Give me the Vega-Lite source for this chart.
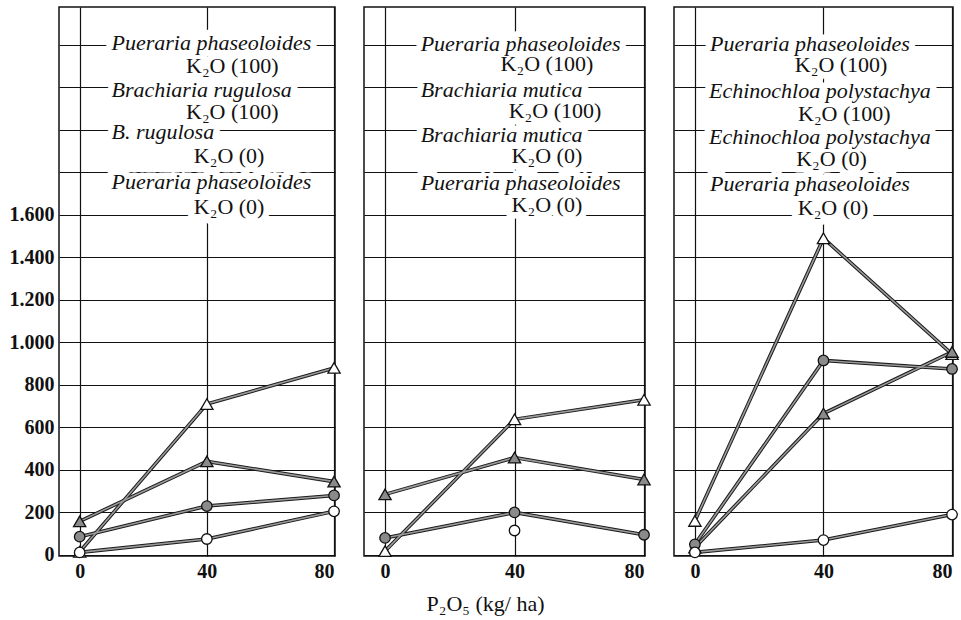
{
  "$schema": "https://vega.github.io/schema/vega-lite/v6.json",
  "padding": {"left": 8, "top": 6, "right": 2, "bottom": 2},
  "background": "white",
  "spacing": 19,
  "datasets": {
    "series": [
      {"panel": 1, "species": "Pueraria phaseoloides", "crop": "legume", "k2o": "100", "p2o5": 0, "dm": 15},
      {"panel": 1, "species": "Pueraria phaseoloides", "crop": "legume", "k2o": "100", "p2o5": 40, "dm": 710},
      {"panel": 1, "species": "Pueraria phaseoloides", "crop": "legume", "k2o": "100", "p2o5": 80, "dm": 880},
      {"panel": 1, "species": "Brachiaria rugulosa", "crop": "grass", "k2o": "100", "p2o5": 0, "dm": 158},
      {"panel": 1, "species": "Brachiaria rugulosa", "crop": "grass", "k2o": "100", "p2o5": 40, "dm": 440},
      {"panel": 1, "species": "Brachiaria rugulosa", "crop": "grass", "k2o": "100", "p2o5": 80, "dm": 345},
      {"panel": 1, "species": "Brachiaria rugulosa", "crop": "grass", "k2o": "0", "p2o5": 0, "dm": 86},
      {"panel": 1, "species": "Brachiaria rugulosa", "crop": "grass", "k2o": "0", "p2o5": 40, "dm": 230},
      {"panel": 1, "species": "Brachiaria rugulosa", "crop": "grass", "k2o": "0", "p2o5": 80, "dm": 280},
      {"panel": 1, "species": "Pueraria phaseoloides", "crop": "legume", "k2o": "0", "p2o5": 0, "dm": 12},
      {"panel": 1, "species": "Pueraria phaseoloides", "crop": "legume", "k2o": "0", "p2o5": 40, "dm": 75},
      {"panel": 1, "species": "Pueraria phaseoloides", "crop": "legume", "k2o": "0", "p2o5": 80, "dm": 205},
      {"panel": 2, "species": "Pueraria phaseoloides", "crop": "legume", "k2o": "100", "p2o5": 0, "dm": 18},
      {"panel": 2, "species": "Pueraria phaseoloides", "crop": "legume", "k2o": "100", "p2o5": 40, "dm": 638},
      {"panel": 2, "species": "Pueraria phaseoloides", "crop": "legume", "k2o": "100", "p2o5": 80, "dm": 730},
      {"panel": 2, "species": "Brachiaria mutica", "crop": "grass", "k2o": "100", "p2o5": 0, "dm": 285},
      {"panel": 2, "species": "Brachiaria mutica", "crop": "grass", "k2o": "100", "p2o5": 40, "dm": 458},
      {"panel": 2, "species": "Brachiaria mutica", "crop": "grass", "k2o": "100", "p2o5": 80, "dm": 355},
      {"panel": 2, "species": "Brachiaria mutica", "crop": "grass", "k2o": "0", "p2o5": 0, "dm": 80},
      {"panel": 2, "species": "Brachiaria mutica", "crop": "grass", "k2o": "0", "p2o5": 40, "dm": 200},
      {"panel": 2, "species": "Brachiaria mutica", "crop": "grass", "k2o": "0", "p2o5": 80, "dm": 95},
      {"panel": 2, "species": "Pueraria phaseoloides", "crop": "legume", "k2o": "0", "p2o5": 40, "dm": 115},
      {"panel": 3, "species": "Pueraria phaseoloides", "crop": "legume", "k2o": "100", "p2o5": 0, "dm": 160},
      {"panel": 3, "species": "Pueraria phaseoloides", "crop": "legume", "k2o": "100", "p2o5": 40, "dm": 1490},
      {"panel": 3, "species": "Pueraria phaseoloides", "crop": "legume", "k2o": "100", "p2o5": 80, "dm": 945},
      {"panel": 3, "species": "Echinochloa polystachya", "crop": "grass", "k2o": "100", "p2o5": 0, "dm": 35},
      {"panel": 3, "species": "Echinochloa polystachya", "crop": "grass", "k2o": "100", "p2o5": 40, "dm": 665},
      {"panel": 3, "species": "Echinochloa polystachya", "crop": "grass", "k2o": "100", "p2o5": 80, "dm": 955},
      {"panel": 3, "species": "Echinochloa polystachya", "crop": "grass", "k2o": "0", "p2o5": 0, "dm": 50},
      {"panel": 3, "species": "Echinochloa polystachya", "crop": "grass", "k2o": "0", "p2o5": 40, "dm": 915},
      {"panel": 3, "species": "Echinochloa polystachya", "crop": "grass", "k2o": "0", "p2o5": 80, "dm": 875},
      {"panel": 3, "species": "Pueraria phaseoloides", "crop": "legume", "k2o": "0", "p2o5": 0, "dm": 12},
      {"panel": 3, "species": "Pueraria phaseoloides", "crop": "legume", "k2o": "0", "p2o5": 40, "dm": 70},
      {"panel": 3, "species": "Pueraria phaseoloides", "crop": "legume", "k2o": "0", "p2o5": 80, "dm": 190}
    ],
    "labels": [
      {"panel": 1, "kind": "species", "text": "Pueraria phaseoloides", "p2o5": 10, "dm": 2410},
      {"panel": 1, "kind": "k2o", "text": "K₂O (100)", "p2o5": 48, "dm": 2301},
      {"panel": 1, "kind": "species", "text": "Brachiaria rugulosa", "p2o5": 10, "dm": 2188},
      {"panel": 1, "kind": "k2o", "text": "K₂O (100)", "p2o5": 48, "dm": 2085},
      {"panel": 1, "kind": "species", "text": "B. rugulosa", "p2o5": 10, "dm": 1990},
      {"panel": 1, "kind": "k2o", "text": "K₂O (0)", "p2o5": 47, "dm": 1878},
      {"panel": 1, "kind": "species", "text": "Pueraria phaseoloides", "p2o5": 10, "dm": 1755},
      {"panel": 1, "kind": "k2o", "text": "K₂O (0)", "p2o5": 47, "dm": 1638},
      {"panel": 2, "kind": "species", "text": "Pueraria phaseoloides", "p2o5": 11, "dm": 2405},
      {"panel": 2, "kind": "k2o", "text": "K₂O (100)", "p2o5": 50, "dm": 2312},
      {"panel": 2, "kind": "species", "text": "Brachiaria mutica", "p2o5": 11, "dm": 2188},
      {"panel": 2, "kind": "k2o", "text": "K₂O (100)", "p2o5": 52.5, "dm": 2090},
      {"panel": 2, "kind": "species", "text": "Brachiaria mutica", "p2o5": 11, "dm": 1976},
      {"panel": 2, "kind": "k2o", "text": "K₂O (0)", "p2o5": 50, "dm": 1875},
      {"panel": 2, "kind": "species", "text": "Pueraria phaseoloides", "p2o5": 11, "dm": 1752},
      {"panel": 2, "kind": "k2o", "text": "K₂O (0)", "p2o5": 50, "dm": 1648},
      {"panel": 3, "kind": "species", "text": "Pueraria phaseoloides", "p2o5": 4.7, "dm": 2405},
      {"panel": 3, "kind": "k2o", "text": "K₂O (100)", "p2o5": 45.5, "dm": 2306},
      {"panel": 3, "kind": "species", "text": "Echinochloa polystachya", "p2o5": 4.4, "dm": 2184},
      {"panel": 3, "kind": "k2o", "text": "K₂O (100)", "p2o5": 46.5, "dm": 2075},
      {"panel": 3, "kind": "species", "text": "Echinochloa polystachya", "p2o5": 4.4, "dm": 1967},
      {"panel": 3, "kind": "k2o", "text": "K₂O (0)", "p2o5": 42.5, "dm": 1864},
      {"panel": 3, "kind": "species", "text": "Pueraria phaseoloides", "p2o5": 4.7, "dm": 1746},
      {"panel": 3, "kind": "k2o", "text": "K₂O (0)", "p2o5": 43, "dm": 1633}
    ]
  },
  "hconcat": [
    {
      "width": 276, "height": 549,
      "encoding": {
        "x": {"field": "p2o5", "type": "quantitative", "scale": {"domain": [-6.5, 80.3], "nice": false, "zero": false},
              "axis": {"values": [0, 40, 80], "title": null, "grid": true, "labelPadding": 5}},
        "y": {"field": "dm", "type": "quantitative", "scale": {"domain": [-5, 2578], "nice": false, "zero": false},
              "axis": {"values": [0, 200, 400, 600, 800, 1000, 1200, 1400, 1600, 1800, 2000, 2200, 2400], "title": null, "grid": true,
                       "labelExpr": "datum.value > 1600 ? '' : replace(format(datum.value, ','), ',', '.')", "labelPadding": 5}}
      },
      "layer": [
        {"data": {"name": "series"}, "transform": [{"filter": "datum.panel == 1"}],
         "mark": {"type": "line", "color": "#1a1a1a", "strokeWidth": 3.6},
         "encoding": {"detail": [{"field": "crop"}, {"field": "k2o"}]}},
        {"data": {"name": "series"}, "transform": [{"filter": "datum.panel == 1"}],
         "mark": {"type": "line", "color": "#9a9a9a", "strokeWidth": 1.6},
         "encoding": {"detail": [{"field": "crop"}, {"field": "k2o"}]}},
        {"data": {"name": "series"}, "transform": [{"filter": "datum.panel == 1"}],
         "mark": {"type": "point", "filled": false, "opacity": 1, "strokeWidth": 1.3, "stroke": "#111"},
         "encoding": {
           "shape": {"field": "k2o", "type": "nominal", "scale": {"domain": ["100", "0"], "range": ["triangle-up", "circle"]}, "legend": null},
           "fill": {"field": "crop", "type": "nominal", "scale": {"domain": ["legume", "grass"], "range": ["#ffffff", "#8a8a8a"]}, "legend": null},
           "size": {"field": "k2o", "type": "nominal", "scale": {"domain": ["100", "0"], "range": [150, 110]}, "legend": null}}},
        {"data": {"name": "labels"}, "transform": [{"filter": "datum.panel == 1 && datum.kind == 'species'"}],
         "mark": {"type": "text", "align": "left", "baseline": "middle", "font": "Liberation Serif", "fontStyle": "italic", "fontSize": 22, "fill": "white", "stroke": "white", "strokeWidth": 13, "strokeJoin": "round"},
         "encoding": {"text": {"field": "text"}}},
        {"data": {"name": "labels"}, "transform": [{"filter": "datum.panel == 1 && datum.kind == 'k2o'"}],
         "mark": {"type": "text", "align": "center", "baseline": "middle", "font": "Liberation Serif", "fontSize": 22, "fill": "white", "stroke": "white", "strokeWidth": 13, "strokeJoin": "round"},
         "encoding": {"text": {"field": "text"}}},
        {"data": {"name": "labels"}, "transform": [{"filter": "datum.panel == 1 && datum.kind == 'species'"}],
         "mark": {"type": "text", "align": "left", "baseline": "middle", "font": "Liberation Serif", "fontStyle": "italic", "fontSize": 22, "color": "#111"},
         "encoding": {"text": {"field": "text"}}},
        {"data": {"name": "labels"}, "transform": [{"filter": "datum.panel == 1 && datum.kind == 'k2o'"}],
         "mark": {"type": "text", "align": "center", "baseline": "middle", "font": "Liberation Serif", "fontSize": 22, "color": "#111"},
         "encoding": {"text": {"field": "text"}}}
      ]
    },
    {
      "width": 281, "height": 549,
      "encoding": {
        "x": {"field": "p2o5", "type": "quantitative", "scale": {"domain": [-6.5, 80.3], "nice": false, "zero": false},
              "axis": {"values": [0, 40, 80], "title": "P₂O₅ (kg/ ha)", "grid": true, "labelPadding": 5, "titleX": 121}},
        "y": {"field": "dm", "type": "quantitative", "scale": {"domain": [-5, 2578], "nice": false, "zero": false},
              "axis": {"values": [0, 200, 400, 600, 800, 1000, 1200, 1400, 1600, 1800, 2000, 2200, 2400], "title": null, "grid": true, "labels": false}}
      },
      "layer": [
        {"data": {"name": "series"}, "transform": [{"filter": "datum.panel == 2"}],
         "mark": {"type": "line", "color": "#1a1a1a", "strokeWidth": 3.6},
         "encoding": {"detail": [{"field": "crop"}, {"field": "k2o"}]}},
        {"data": {"name": "series"}, "transform": [{"filter": "datum.panel == 2"}],
         "mark": {"type": "line", "color": "#9a9a9a", "strokeWidth": 1.6},
         "encoding": {"detail": [{"field": "crop"}, {"field": "k2o"}]}},
        {"data": {"name": "series"}, "transform": [{"filter": "datum.panel == 2"}],
         "mark": {"type": "point", "filled": false, "opacity": 1, "strokeWidth": 1.3, "stroke": "#111"},
         "encoding": {
           "shape": {"field": "k2o", "type": "nominal", "scale": {"domain": ["100", "0"], "range": ["triangle-up", "circle"]}, "legend": null},
           "fill": {"field": "crop", "type": "nominal", "scale": {"domain": ["legume", "grass"], "range": ["#ffffff", "#8a8a8a"]}, "legend": null},
           "size": {"field": "k2o", "type": "nominal", "scale": {"domain": ["100", "0"], "range": [150, 110]}, "legend": null}}},
        {"data": {"name": "labels"}, "transform": [{"filter": "datum.panel == 2 && datum.kind == 'species'"}],
         "mark": {"type": "text", "align": "left", "baseline": "middle", "font": "Liberation Serif", "fontStyle": "italic", "fontSize": 22, "fill": "white", "stroke": "white", "strokeWidth": 13, "strokeJoin": "round"},
         "encoding": {"text": {"field": "text"}}},
        {"data": {"name": "labels"}, "transform": [{"filter": "datum.panel == 2 && datum.kind == 'k2o'"}],
         "mark": {"type": "text", "align": "center", "baseline": "middle", "font": "Liberation Serif", "fontSize": 22, "fill": "white", "stroke": "white", "strokeWidth": 13, "strokeJoin": "round"},
         "encoding": {"text": {"field": "text"}}},
        {"data": {"name": "labels"}, "transform": [{"filter": "datum.panel == 2 && datum.kind == 'species'"}],
         "mark": {"type": "text", "align": "left", "baseline": "middle", "font": "Liberation Serif", "fontStyle": "italic", "fontSize": 22, "color": "#111"},
         "encoding": {"text": {"field": "text"}}},
        {"data": {"name": "labels"}, "transform": [{"filter": "datum.panel == 2 && datum.kind == 'k2o'"}],
         "mark": {"type": "text", "align": "center", "baseline": "middle", "font": "Liberation Serif", "fontSize": 22, "color": "#111"},
         "encoding": {"text": {"field": "text"}}}
      ]
    },
    {
      "width": 279, "height": 549,
      "encoding": {
        "x": {"field": "p2o5", "type": "quantitative", "scale": {"domain": [-6.5, 80.3], "nice": false, "zero": false},
              "axis": {"values": [0, 40, 80], "title": null, "grid": true, "labelPadding": 5}},
        "y": {"field": "dm", "type": "quantitative", "scale": {"domain": [-5, 2578], "nice": false, "zero": false},
              "axis": {"values": [0, 200, 400, 600, 800, 1000, 1200, 1400, 1600, 1800, 2000, 2200, 2400], "title": null, "grid": true, "labels": false}}
      },
      "layer": [
        {"data": {"name": "series"}, "transform": [{"filter": "datum.panel == 3"}],
         "mark": {"type": "line", "color": "#1a1a1a", "strokeWidth": 3.6},
         "encoding": {"detail": [{"field": "crop"}, {"field": "k2o"}]}},
        {"data": {"name": "series"}, "transform": [{"filter": "datum.panel == 3"}],
         "mark": {"type": "line", "color": "#9a9a9a", "strokeWidth": 1.6},
         "encoding": {"detail": [{"field": "crop"}, {"field": "k2o"}]}},
        {"data": {"name": "series"}, "transform": [{"filter": "datum.panel == 3"}],
         "mark": {"type": "point", "filled": false, "opacity": 1, "strokeWidth": 1.3, "stroke": "#111"},
         "encoding": {
           "shape": {"field": "k2o", "type": "nominal", "scale": {"domain": ["100", "0"], "range": ["triangle-up", "circle"]}, "legend": null},
           "fill": {"field": "crop", "type": "nominal", "scale": {"domain": ["legume", "grass"], "range": ["#ffffff", "#8a8a8a"]}, "legend": null},
           "size": {"field": "k2o", "type": "nominal", "scale": {"domain": ["100", "0"], "range": [150, 110]}, "legend": null}}},
        {"data": {"name": "labels"}, "transform": [{"filter": "datum.panel == 3 && datum.kind == 'species'"}],
         "mark": {"type": "text", "align": "left", "baseline": "middle", "font": "Liberation Serif", "fontStyle": "italic", "fontSize": 22, "fill": "white", "stroke": "white", "strokeWidth": 13, "strokeJoin": "round"},
         "encoding": {"text": {"field": "text"}}},
        {"data": {"name": "labels"}, "transform": [{"filter": "datum.panel == 3 && datum.kind == 'k2o'"}],
         "mark": {"type": "text", "align": "center", "baseline": "middle", "font": "Liberation Serif", "fontSize": 22, "fill": "white", "stroke": "white", "strokeWidth": 13, "strokeJoin": "round"},
         "encoding": {"text": {"field": "text"}}},
        {"data": {"name": "labels"}, "transform": [{"filter": "datum.panel == 3 && datum.kind == 'species'"}],
         "mark": {"type": "text", "align": "left", "baseline": "middle", "font": "Liberation Serif", "fontStyle": "italic", "fontSize": 22, "color": "#111"},
         "encoding": {"text": {"field": "text"}}},
        {"data": {"name": "labels"}, "transform": [{"filter": "datum.panel == 3 && datum.kind == 'k2o'"}],
         "mark": {"type": "text", "align": "center", "baseline": "middle", "font": "Liberation Serif", "fontSize": 22, "color": "#111"},
         "encoding": {"text": {"field": "text"}}}
      ]
    }
  ],
  "config": {
    "view": {"stroke": "#111", "strokeWidth": 1.5},
    "axis": {
      "domain": false, "ticks": false,
      "gridColor": "#111", "gridWidth": 1.2, "gridOpacity": 1,
      "labelFont": "Liberation Serif", "labelFontWeight": "bold", "labelFontSize": 20, "labelColor": "#111",
      "titleFont": "Liberation Serif", "titleFontWeight": "normal", "titleFontSize": 22, "titleColor": "#111", "titlePadding": 12
    }
  }
}
